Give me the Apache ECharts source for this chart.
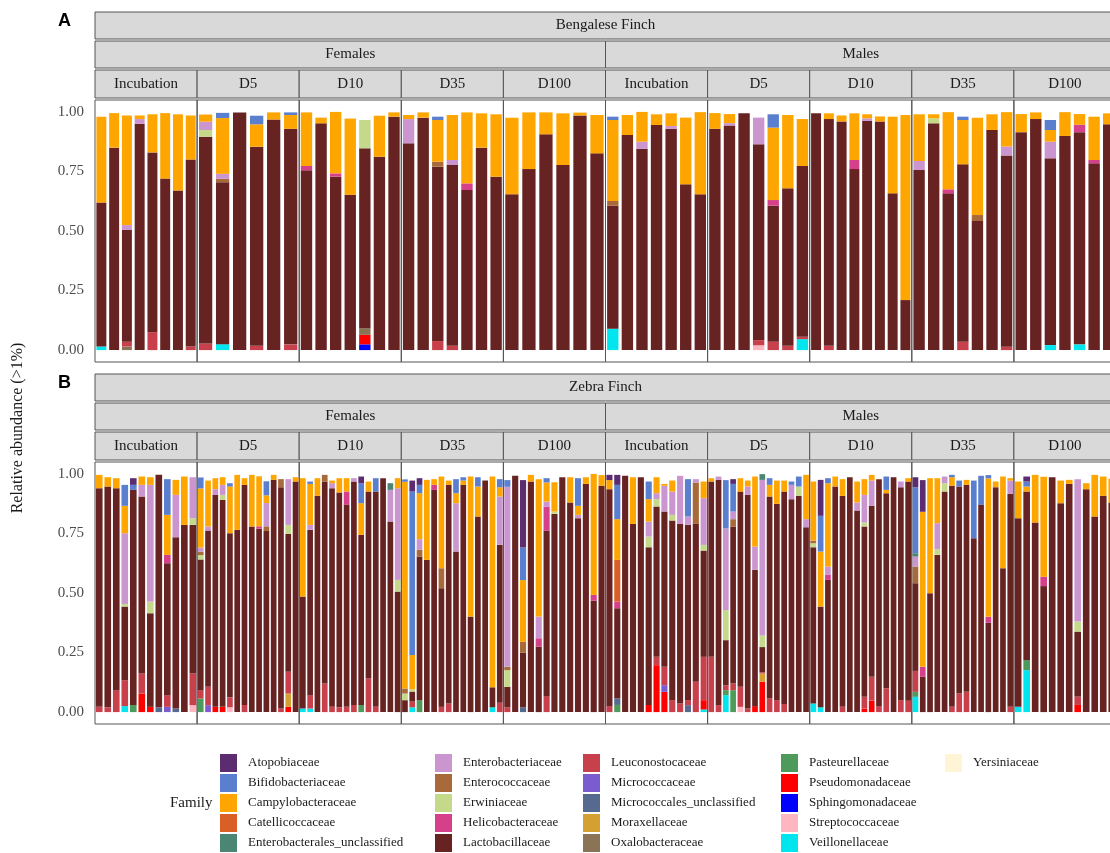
<!DOCTYPE html>
<html>
<head>
<meta charset="utf-8">
<script src="https://cdn.jsdelivr.net/npm/echarts@6/dist/echarts.min.js"></script>
<style>
html,body{margin:0;padding:0;overflow:hidden;background:#fff;}
#chart{width:1122px;height:853px;}
</style>
</head>
<body>
<div id="chart"></div>
<script>
// ---------- labels ----------
const families = ['Atopobiaceae','Bifidobacteriaceae','Campylobacteraceae','Catellicoccaceae','Enterobacterales_unclassified',
  'Enterobacteriaceae','Enterococcaceae','Erwiniaceae','Helicobacteraceae','Lactobacillaceae',
  'Leuconostocaceae','Micrococcaceae','Micrococcales_unclassified','Moraxellaceae','Oxalobacteraceae',
  'Pasteurellaceae','Pseudomonadaceae','Sphingomonadaceae','Streptococcaceae','Veillonellaceae','Yersiniaceae'];
const codes = ['Ato','Bif','Cam','Cat','EnU','Ent','Enc','Erw','Hel','Lac','Leu','Mic','MiU','Mor','Oxa','Pas','Pse','Sph','Str','Vei','Yer'];
const timepoints = ['Incubation','D5','D10','D35','D100'];
const sexes = ['Females','Males'];
const speciesNames = ['Bengalese Finch','Zebra Finch'];
const panelLetters = ['A','B'];
const yTicks = [0, 0.25, 0.5, 0.75, 1];

// ---------- Bengalese Finch ----------
const bfFemInc = [
 {Vei:.015,Lac:.605,Cam:.36},{Lac:.85,Cam:.145},{Leu:.02,Lac:.47,Oxa:.015,Ent:.02,Cam:.46},
 {Lac:.95,Ent:.02,Cam:.015},{Leu:.075,Lac:.755,Cam:.16},{Lac:.72,Cam:.275},{Lac:.67,Cam:.32},{Leu:.015,Lac:.785,Cam:.185}];
const bfFemD5 = [
 {Leu:.028,Lac:.868,Erw:.028,Ent:.035,Cam:.03},{Vei:.025,Lac:.68,Enc:.014,Ent:.021,Cam:.234,Bif:.022},{Lac:.998},
 {Leu:.018,Lac:.836,Cam:.094,Bif:.036},{Lac:.968,Cam:.03},{Leu:.024,Lac:.905,Cam:.058,Bif:.011}];
const bfFemD10 = [
 {Lac:.755,Hel:.018,Cam:.225},{Lac:.952,Cam:.024},{Lac:.728,Hel:.014,Cam:.258},{Lac:.652,Cam:.32},
 {Sph:.024,Pse:.04,Oxa:.028,Lac:.755,Erw:.119},{Lac:.812,Cam:.172},{Lac:.98,Cam:.018}];
const bfFemD35 = [
 {Lac:.868,Ent:.102,Cam:.017},{Lac:.976,Cam:.022},{Leu:.038,Lac:.732,Enc:.021,Cam:.175,Bif:.014},
 {Leu:.018,Lac:.759,Ent:.021,Cam:.189},{Lac:.672,Hel:.028,Cam:.298},{Lac:.85,Cam:.144},{Lac:.728,Cam:.262}];
const bfFemD100 = [
 {Lac:.654,Cam:.322},{Lac:.76,Cam:.238},{Lac:.906,Cam:.092},{Lac:.777,Cam:.217},{Lac:.985,Cam:.012},{Lac:.826,Cam:.161}];
const bfMalInc = [
 {Vei:.09,Lac:.516,Enc:.02,Cam:.34,Bif:.014},{Lac:.903,Cam:.084},{Lac:.845,Ent:.03,Cam:.125},{Lac:.945,Cam:.045},
 {Lac:.929,Ent:.012,Cam:.053},{Lac:.696,Cam:.28},{Lac:.654,Cam:.345}];
const bfMalD5 = [
 {Lac:.929,Cam:.066},{Lac:.943,Ent:.01,Cam:.038},{Lac:.994},{Str:.02,Leu:.022,Lac:.822,Ent:.112},
 {Leu:.035,Lac:.571,Hel:.024,Cam:.304,Bif:.056},{Leu:.018,Lac:.661,Cam:.308},{Vei:.046,Leu:.01,Lac:.717,Cam:.197}];
const bfMalD10 = [
 {Lac:.994},{Leu:.018,Lac:.952,Cam:.024},{Lac:.96,Cam:.025},{Lac:.76,Hel:.038,Cam:.196},
 {Lac:.962,Ent:.011,Cam:.017},{Lac:.96,Cam:.021},{Lac:.658,Cam:.322},{Lac:.21,Cam:.777}];
const bfMalD35 = [
 {Lac:.756,Ent:.038,Cam:.196},{Lac:.952,Erw:.021,Cam:.017},{Lac:.658,Hel:.017,Cam:.324},{Leu:.035,Lac:.745,Cam:.186,Bif:.014},
 {Lac:.542,Enc:.025,Cam:.409},{Lac:.924,Cam:.066},{Leu:.014,Lac:.803,Ent:.038,Cam:.144}];
const bfMalD100 = [
 {Lac:.915,Cam:.076},{Lac:.97,Cam:.028},{Vei:.021,Lac:.784,Ent:.07,Cam:.049,Bif:.042},{Lac:.899,Cam:.1},
 {Vei:.024,Lac:.891,Hel:.031,Cam:.045},{Lac:.784,Hel:.014,Cam:.182},{Lac:.948,Cam:.046}];

// ---------- Zebra Finch ----------
const zfFemInc = [
 {Leu:.022,Lac:.918,Cam:.056},{Leu:.02,Lac:.927,Cam:.039},{Leu:.092,Lac:.848,Cam:.042},
 {Vei:.025,Leu:.109,Lac:.309,Erw:.011,Ent:.297,Cam:.115,Bif:.088},{Pas:.03,Lac:.903,Bif:.021,Ato:.028},
 {Pse:.078,Leu:.084,Lac:.743,Ent:.049,Cam:.035},{Pse:.022,Lac:.393,Erw:.049,Ent:.49,Cam:.032},{MiU:.02,Lac:.976},
 {Mic:.022,Leu:.049,Lac:.554,Hel:.035,Cam:.168,Bif:.15},{MiU:.015,Lac:.719,Ent:.178,Cam:.063},{Lac:.786,Cam:.203},
 {Str:.029,Leu:.133,Lac:.624,Erw:.028,Ent:.172}];
const zfFemD5 = [
 {Pas:.057,Leu:.035,Lac:.549,Erw:.018,Enc:.014,Ent:.018,Cam:.248,Bif:.046},{Mic:.029,Leu:.077,Lac:.656,Ent:.017,Cam:.193},
 {Pse:.022,Lac:.89,Ent:.024,Cam:.046},{Pse:.022,Lac:.869,Erw:.021,Ent:.042,Cam:.032},{Str:.02,Leu:.042,Lac:.689,Cam:.196,Bif:.014},
 {Lac:.765,Cam:.231},{Leu:.03,Lac:.924,Cam:.028},{Lac:.779,Cam:.217},{Lac:.77,Hel:.01,Cam:.21},
 {Lac:.76,Enc:.02,Ent:.098,Cam:.032,Bif:.059},{Lac:.975,Cam:.021},{Leu:.015,Lac:.929,Enc:.034},
 {Pse:.022,Mor:.056,Leu:.091,Lac:.579,Erw:.038,Ent:.192},{Lac:.968,Cam:.018}];
const zfFemD10 = [
 {Vei:.015,Lac:.47,Cam:.497},{Vei:.015,Leu:.056,Lac:.694,Ent:.021,Cam:.172,Bif:.01},{Lac:.908,Cam:.074},
 {Leu:.12,Lac:.848,Enc:.028},{Leu:.022,Lac:.918,Ent:.021,Cam:.011},{Leu:.02,Lac:.902,Cam:.06},
 {Leu:.022,Lac:.848,Hel:.056,Cam:.056},{Leu:.03,Lac:.938,Ent:.014},{Pas:.03,Lac:.714,Cam:.133,Bif:.084,Ato:.028},
 {Leu:.141,Lac:.785,Cam:.042},{Leu:.022,Lac:.904,Bif:.056},{Lac:.982},{Lac:.8,Ent:.133,EnU:.028},
 {Lac:.506,Erw:.049,Ent:.385,Cam:.042}];
const zfFemD35 = [
 {Lac:.05,Erw:.028,Enc:.021,Cam:.868,Bif:.01},{Vei:.02,Leu:.024,Lac:.042,Erw:.01,Cam:.144,Bif:.686,Ato:.046},
 {Pas:.05,Lac:.603,Enc:.028,Ent:.045,Cam:.193,Bif:.035,Ato:.028},{Lac:.639,Cam:.336},{Lac:.933,Hel:.021,Cam:.024},
 {Leu:.022,Lac:.498,Enc:.084,Cam:.385},{Leu:.036,Lac:.918,Cam:.018},{Lac:.674,Ent:.203,Cam:.042,Bif:.059},
 {Lac:.954,Cam:.018,Bif:.014},{Lac:.401,Cam:.588},{Lac:.821,Cam:.126,Bif:.039},{Lac:.972},
 {Vei:.02,Lac:.084,Cam:.885},{Leu:.039,Lac:.663,Ent:.203,Cam:.039,Bif:.034}];
const zfFemD100 = [
 {Leu:.02,Lac:.086,Erw:.07,Enc:.014,Ent:.756,Bif:.028},{Lac:.992},{MiU:.02,Lac:.229,Enc:.046,Cam:.259,Bif:.137,Ato:.283},
 {Lac:.968,Cam:.028},{Lac:.275,Hel:.035,Ent:.091,Cam:.577},{Leu:.067,Lac:.695,Hel:.101,Ent:.021,Cam:.08,Bif:.018},
 {Lac:.832,Erw:.01,Cam:.123},{Lac:.986},{Lac:.88,Cam:.106},{Lac:.814,Ent:.014,Cam:.038,Bif:.116},
 {Lac:.958,Cam:.028},{Lac:.468,Hel:.024,Cam:.508},{Lac:.95,Cam:.045}];
const zfMalInc = [
 {Leu:.025,Lac:.911,Cam:.038,Ato:.022},{Pas:.03,MiU:.028,Lac:.378,Hel:.028,Cat:.175,Cam:.171,Bif:.144,Ato:.042},
 {Lac:.992},{Lac:.79,Cam:.196},{Lac:.986},{Pse:.03,Lac:.662,Erw:.045,Ent:.063,Cam:.094,Bif:.074},
 {Pse:.197,Leu:.035,Lac:.631,Erw:.031,Ent:.025,Cam:.067},{Pse:.085,Mic:.028,Leu:.077,Lac:.652,Ent:.108,Cam:.008},
 {Leu:.05,Lac:.754,Erw:.024,Ent:.098,Cam:.046},{Leu:.036,Lac:.754,Ent:.202},{MiU:.029,Leu:.021,Lac:.736,Ent:.035,Bif:.157},
 {Leu:.127,Lac:.663,Enc:.174,Ent:.014},{Vei:.011,Pse:.039,Leu:.182,Lac:.446,Erw:.024,Ent:.196,Cam:.07}];
const zfMalD5 = [
 {Leu:.232,Lac:.736,Cam:.014},{Leu:.029,Lac:.946,Ent:.014},{Vei:.071,Pas:.021,Leu:.02,Lac:.19,Erw:.126,Ent:.343,Bif:.203},
 {Pas:.092,Leu:.028,Lac:.659,Enc:.031,Ent:.032,Bif:.116,Ato:.02},{Str:.022,Leu:.084,Lac:.82,Cam:.056},
 {Leu:.015,Lac:.897,Ent:.035,Cam:.025},{Pse:.025,Lac:.572,Ent:.098,Cam:.294},
 {Pse:.127,Mor:.035,Leu:.005,Lac:.106,Erw:.049,Ent:.653,EnU:.024},{Leu:.057,Lac:.848,Cam:.049,Bif:.028},
 {Leu:.05,Lac:.824,Cam:.098},{Leu:.034,Lac:.892,Cam:.046},{Lac:.894,Ent:.06,Bif:.014},{Lac:.908,Erw:.039,Bif:.042},
 {Lac:.776,Ent:.034,Cam:.186}];
const zfMalD10 = [
 {Vei:.036,Lac:.656,Erw:.017,Enc:.011,Cam:.248},{Vei:.02,Lac:.423,Cam:.231,Bif:.15,Ato:.151},
 {Lac:.555,Hel:.021,Ent:.035,Cam:.35,Bif:.021},{Lac:.947,Cam:.042},{Leu:.022,Lac:.886,Cam:.07},{Lac:.986},
 {Lac:.846,Ent:.034,Cam:.088},{Pse:.015,Leu:.049,Lac:.715,Erw:.017,Ent:.116,Cam:.066},
 {Pse:.048,Leu:.1,Lac:.718,Ent:.106,Cam:.024},{Leu:.025,Lac:.953},{Leu:.1,Lac:.819,Cam:.014,Bif:.056},{Lac:.986},
 {Leu:.05,Lac:.894,Ent:.024},{Leu:.048,Lac:.92,Cam:.014}];
const zfMalD35 = [
 {Vei:.064,Pas:.021,Leu:.088,Lac:.368,Enc:.07,Ent:.042,EnU:.014,Bif:.277,Ato:.042},{Lac:.148,Hel:.042,Cam:.651,Ato:.133},
 {Lac:.499,Cam:.483},{Lac:.66,Erw:.024,Ent:.109,Cam:.189},{Lac:.926,Erw:.035,Ent:.028},{Leu:.022,Lac:.928,Cam:.036,Bif:.01},
 {Leu:.078,Lac:.869,Bif:.025},{Leu:.085,Lac:.869,Cam:.021},{Lac:.73,Bif:.242},{Lac:.87,Bif:.122},
 {Lac:.375,Hel:.025,Cam:.581,Bif:.014},{Lac:.944,Cam:.024},{Lac:.604,Cam:.385},{Leu:.022,Lac:.894,Ent:.056,Cam:.01}];
const zfMalD100 = [
 {Vei:.022,Lac:.792,Cam:.154},{Vei:.176,Pas:.042,Lac:.708,Cam:.021,Bif:.021,Ato:.021},{Lac:.796,Cam:.2},
 {Lac:.529,Hel:.039,Cam:.42},{Lac:.986},{Lac:.877,Cam:.095},{Lac:.958,Cam:.017},
 {Pse:.03,Leu:.035,Lac:.273,Erw:.042,Ent:.598},{Lac:.936,Cam:.025},{Lac:.821,Cam:.175},{Lac:.908,Cam:.081},{Lac:.88,Cam:.1}];

const facetData = [
  [[bfFemInc,bfFemD5,bfFemD10,bfFemD35,bfFemD100],[bfMalInc,bfMalD5,bfMalD10,bfMalD35,bfMalD100]],
  [[zfFemInc,zfFemD5,zfFemD10,zfFemD35,zfFemD100],[zfMalInc,zfMalD5,zfMalD10,zfMalD35,zfMalD100]]
];

// ---------- style ----------
const palette = ['#5B2C6F','#5B7FCF','#FFA500','#D95F26','#4B8573',
  '#CB96D0','#A86A3A','#C5D98A','#D63F8A','#672322',
  '#C9404D','#7B5BD0','#56698F','#D4A032','#8B7355',
  '#4E9A5A','#FF0000','#0000FF','#FFB6C1','#00E5EE','#FFF5D6'];
const serif = '"Liberation Serif", "DejaVu Serif", serif';
const X0 = 95, FW = 102.1;
const panelTop = [100, 462], panelH = 262;
const stripY = [[12,41,70],[374,403,432]], stripH = [27,27,28];
const stripFill = '#D9D9D9', stripStroke = '#555';

const grids = [], xAxes = [], yAxes = [], series = [], graphics = [];
for (let p = 0; p < 2; p++) {
  for (let s = 0; s < 2; s++) {
    for (let t = 0; t < 5; t++) {
      const gi = p*10 + s*5 + t;
      const left = X0 + (s*5 + t) * FW;
      const bars = facetData[p][s][t];
      grids.push({left: left, top: panelTop[p], width: FW, height: panelH,
        show: true, borderColor: '#555', borderWidth: 1, backgroundColor: 'transparent'});
      xAxes.push({type:'category', gridIndex: gi, data: bars.map((b,i)=>String(i+1)), show:false});
      const first = (s===0 && t===0);
      yAxes.push({type:'value', gridIndex: gi, min:-0.05, max:1.05,
        splitLine:{show:false}, axisLine:{show:false}, axisTick:{show:false},
        axisLabel:{show:first, customValues: yTicks, formatter: v => v.toFixed(2),
          fontFamily: serif, fontSize: 15, color:'#4d4d4d', margin: 11}});
      for (let f = families.length - 1; f >= 0; f--) {
        series.push({type:'bar', name: families[f], xAxisIndex: gi, yAxisIndex: gi, stack: 'st'+gi,
          barCategoryGap: '22%', silent: true,
          itemStyle:{color: palette[f]},
          data: bars.map(b => b[codes[f]] || 0)});
      }
      // timepoint strip
      graphics.push({type:'rect', shape:{x:left, y:stripY[p][2], width:FW, height:stripH[2]},
        style:{fill:stripFill, stroke:stripStroke, lineWidth:1}, silent:true});
      graphics.push({type:'text', style:{text: timepoints[t], x: left + FW/2, y: stripY[p][2] + stripH[2]/2,
        textAlign:'center', textVerticalAlign:'middle', font: '15px ' + serif, fill:'#1a1a1a'}, silent:true});
    }
    const sl = X0 + s*5*FW;
    graphics.push({type:'rect', shape:{x:sl, y:stripY[p][1], width:FW*5, height:stripH[1]},
      style:{fill:stripFill, stroke:stripStroke, lineWidth:1}, silent:true});
    graphics.push({type:'text', style:{text: sexes[s], x: sl + FW*2.5, y: stripY[p][1] + stripH[1]/2,
      textAlign:'center', textVerticalAlign:'middle', font: '15px ' + serif, fill:'#1a1a1a'}, silent:true});
  }
  graphics.push({type:'rect', shape:{x:X0, y:stripY[p][0], width:FW*10, height:stripH[0]},
    style:{fill:stripFill, stroke:stripStroke, lineWidth:1}, silent:true});
  graphics.push({type:'text', style:{text: speciesNames[p], x: X0 + FW*5, y: stripY[p][0] + stripH[0]/2,
    textAlign:'center', textVerticalAlign:'middle', font: '15px ' + serif, fill:'#1a1a1a'}, silent:true});
  graphics.push({type:'text', style:{text: panelLetters[p], x: 58, y: stripY[p][0] + 9,
    textAlign:'left', textVerticalAlign:'middle', font: 'bold 18px "Liberation Sans", Arial, sans-serif', fill:'#000'}, silent:true});
}
graphics.push({type:'text', x: 18, y: 428, rotation: Math.PI/2,
  style:{text:'Relative abundance (>1%)', x:0, y:0, textAlign:'center', textVerticalAlign:'middle',
  font:'16px ' + serif, fill:'#1a1a1a'}, silent:true});
graphics.push({type:'text', style:{text:'Family', x:170, y:803, textAlign:'left', textVerticalAlign:'middle',
  font:'15px ' + serif, fill:'#1a1a1a'}, silent:true});

const legendCols = [families.slice(0,5), families.slice(5,10), families.slice(10,15), families.slice(15,20), families.slice(20)];
const legendX = [220, 435, 583, 781, 945];
const legends = legendCols.map((col, i) => ({
  orient:'vertical', left: legendX[i], top: 754, padding: 0, itemWidth: 17, itemHeight: 18, itemGap: 2,
  icon: 'rect', selectedMode: false, data: col,
  textStyle:{fontFamily: serif, fontSize: 13, color:'#1a1a1a', padding:[0,0,0,6]}
}));

const chart = echarts.init(document.getElementById('chart'));
chart.setOption({
  animation: false,
  backgroundColor: '#fff',
  grid: grids, xAxis: xAxes, yAxis: yAxes, series: series,
  legend: legends,
  graphic: graphics
});
</script>
</body>
</html>
